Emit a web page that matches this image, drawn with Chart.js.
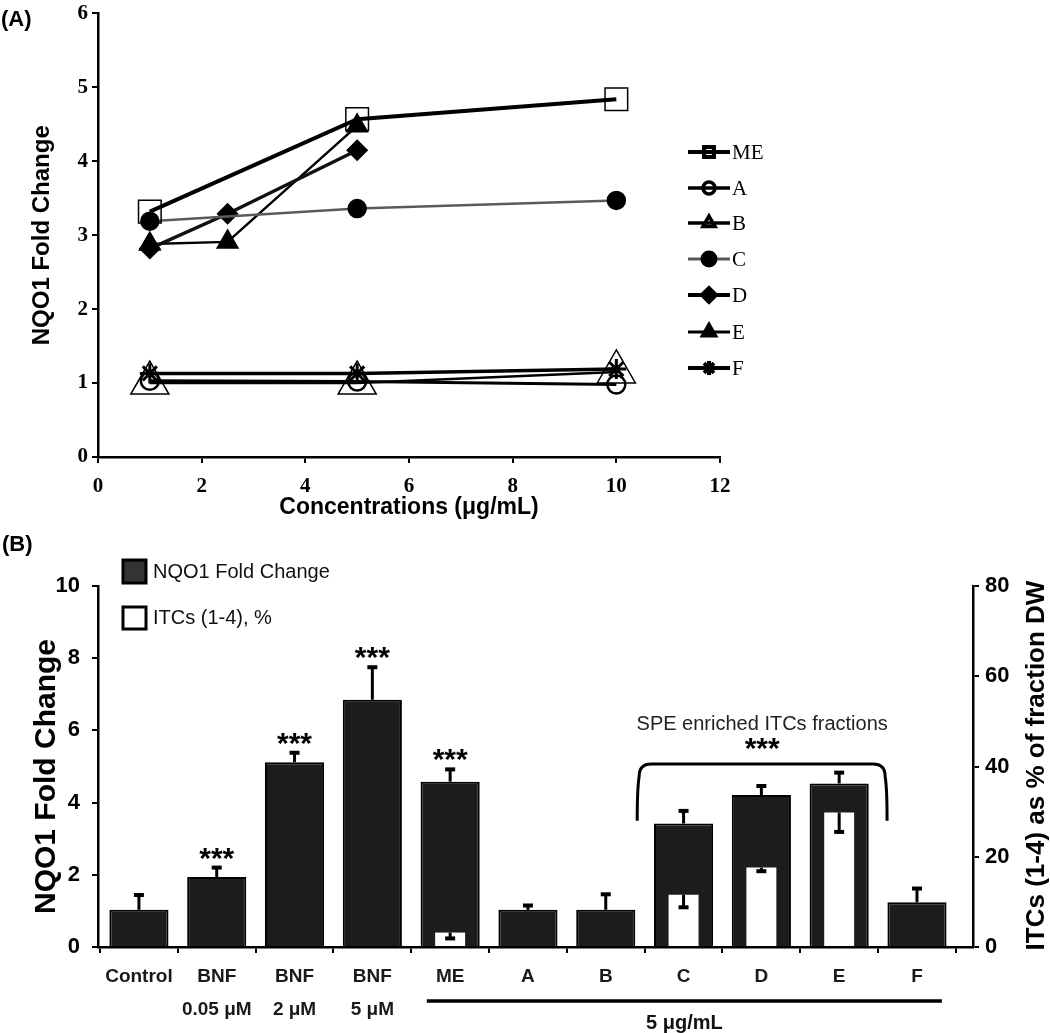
<!DOCTYPE html>
<html>
<head>
<meta charset="utf-8">
<script src="https://cdn.jsdelivr.net/npm/chart.js@4.4.1/dist/chart.umd.min.js"></script>
<style>
    body { margin: 0; background: #fff; }
    #painelA { position: absolute; left: 0; top: 0; }
    #painelB { position: absolute; left: 0; top: 522px; }
</style>
</head>
<body>
<canvas id="painelA" width="1050" height="522"></canvas>
<canvas id="painelB" width="1050" height="511"></canvas>
<script>
// ---------- dados do painel A ----------
const concPadrao = [1, 5, 10];
const concDE = [1, 2.5, 5];
const ticksXA = [0, 2, 4, 6, 8, 10, 12];
const valME = [3.32, 4.57, 4.84];
const valA = [1.03, 1.02, 0.98];
const valB = [1.0, 1.0, 1.15];
const valC = [3.19, 3.36, 3.47];
const valD = [2.82, 3.29, 4.15];
const valE = [2.88, 2.91, 4.48];
const valF = [1.13, 1.13, 1.19];

// ---------- dados do painel B ----------
const categoriasB = ['Control', 'BNF', 'BNF', 'BNF', 'ME', 'A', 'B', 'C', 'D', 'E', 'F'];
const subLabelsB = ['', '0.05 μM', '2 μM', '5 μM', '', '', '', '', '', '', ''];
const nqo1 = [1.03, 1.94, 5.12, 6.85, 4.58, 1.03, 1.03, 3.42, 4.21, 4.53, 1.24];
const nqo1Erro = [0.41, 0.26, 0.26, 0.9, 0.34, 0.12, 0.43, 0.35, 0.25, 0.3, 0.38];
const itcs = [null, null, null, null, 3.2, null, null, 11.6, 17.6, 29.8, null];
const itcsErro = [0, 0, 0, 0, 1.3, 0, 0, 2.8, 0.8, 4.3, 0];
const signif = ['', '***', '***', '***', '***', '', '', '', '', '', ''];

Chart.defaults.font.family = 'Liberation Sans';
Chart.defaults.color = '#000';

const SANS = 'Liberation Sans';
const SERIF = 'Liberation Serif';
const VAZIO = 'rgba(0,0,0,0)';

// ================= PAINEL A =================
function serie(label, xs, ys, estilo) {
    return Object.assign({
        label: label,
        data: xs.map((x, i) => ({ x: x, y: ys[i] })),
        showLine: true,
        borderColor: '#000',
        pointBorderColor: '#000',
        pointBackgroundColor: '#000',
        pointBorderWidth: 1.5
    }, estilo);
}

const seriesA = [
    serie('ME', concPadrao, valME, { borderWidth: 4, pointStyle: 'rect', pointRadius: 16, pointBackgroundColor: VAZIO, pointBorderWidth: 1.5 }),
    serie('A', concPadrao, valA, { borderWidth: 3, pointStyle: 'circle', pointRadius: 9, pointBackgroundColor: VAZIO, pointBorderWidth: 2.5 }),
    serie('B', concPadrao, valB, { borderWidth: 2.5, pointStyle: 'triangle', pointRadius: 22, pointBackgroundColor: VAZIO, pointBorderWidth: 1.5 }),
    serie('C', concPadrao, valC, { borderWidth: 2.5, borderColor: '#5a5a5a', pointStyle: 'circle', pointRadius: 9 }),
    serie('D', concDE, valD, { borderWidth: 3.5, borderColor: '#111', pointStyle: 'rectRot', pointRadius: 10 }),
    serie('E', concDE, valE, { borderWidth: 2.5, pointStyle: 'triangle', pointRadius: 12 }),
    serie('F', concPadrao, valF, { borderWidth: 3.5, pointStyle: 'star', pointRadius: 10, pointBorderWidth: 3 })
];

// legenda do painel A (linha + marcador)
const legendaA = [
    { nome: 'ME', estilo: 'rect', raio: 7, cheio: false, cor: '#000', larg: 4 },
    { nome: 'A', estilo: 'circle', raio: 6, cheio: false, cor: '#000', larg: 3.5 },
    { nome: 'B', estilo: 'triangle', raio: 7, cheio: false, cor: '#000', larg: 3.5 },
    { nome: 'C', estilo: 'circle', raio: 7, cheio: true, cor: '#5a5a5a', larg: 3 },
    { nome: 'D', estilo: 'rectRot', raio: 7, cheio: true, cor: '#000', larg: 4 },
    { nome: 'E', estilo: 'triangle', raio: 8, cheio: true, cor: '#000', larg: 3 },
    { nome: 'F', estilo: 'star', raio: 7, cheio: false, cor: '#000', larg: 4 }
];
const legendaAy = [152, 188, 223, 259, 295, 332, 368];

const extrasA = {
    id: 'extrasA',
    afterDraw(chart) {
        const ctx = chart.ctx;
        ctx.save();
        ctx.fillStyle = '#000';
        ctx.font = 'bold 22px ' + SANS;
        ctx.textBaseline = 'middle';
        ctx.textAlign = 'left';
        ctx.fillText('(A)', 1, 20);

        legendaA.forEach((item, i) => {
            const y = legendaAy[i];
            ctx.strokeStyle = item.cor;
            ctx.lineWidth = item.larg;
            ctx.beginPath();
            ctx.moveTo(688, y);
            ctx.lineTo(730, y);
            ctx.stroke();
            ctx.strokeStyle = '#000';
            ctx.fillStyle = item.cheio ? '#000' : VAZIO;
            Chart.helpers.drawPoint(ctx, { pointStyle: item.estilo, radius: item.raio, borderWidth: 1.5, rotation: 0 }, 709, y);
            ctx.fillStyle = '#000';
            ctx.font = '21px ' + SERIF;
            ctx.fillText(item.nome, 732, y + 1);
        });
        ctx.restore();
    }
};

new Chart(document.getElementById('painelA'), {
    type: 'scatter',
    data: { datasets: seriesA },
    options: {
        responsive: false,
        animation: false,
        events: [],
        layout: { autoPadding: false, padding: { left: 0, right: 330, top: 9, bottom: 0 } },
        plugins: { legend: { display: false }, tooltip: { enabled: false } },
        scales: {
            x: {
                type: 'linear',
                min: 0,
                max: 12,
                afterBuildTicks: (s) => { s.ticks = ticksXA.map(v => ({ value: v })); },
                afterFit: (s) => { s.height = 65; },
                grid: { drawOnChartArea: false, drawTicks: true, tickLength: 6, color: '#000', lineWidth: 2 },
                border: { color: '#000', width: 2.5 },
                ticks: { font: { family: SERIF, size: 21, weight: 'bold' }, color: '#000', padding: 11 },
                title: {
                    display: true,
                    text: 'Concentrations (μg/mL)',
                    font: { family: SANS, size: 23, weight: 'bold' },
                    color: '#000',
                    padding: { top: 0, bottom: 1 }
                }
            },
            y: {
                min: 0,
                max: 6,
                afterFit: (s) => { s.width = 98; },
                grid: { drawOnChartArea: false, drawTicks: true, tickLength: 6, color: '#000', lineWidth: 2 },
                border: { color: '#000', width: 2.5 },
                ticks: { stepSize: 1, font: { family: SERIF, size: 21, weight: 'bold', lineHeight: 0.9 }, color: '#000', padding: 4 },
                title: {
                    display: true,
                    text: 'NQO1 Fold Change',
                    font: { family: SANS, size: 24, weight: 'bold' },
                    color: '#000',
                    padding: { top: 28, bottom: 0 }
                }
            }
        }
    },
    plugins: [extrasA]
});

// ================= PAINEL B =================
const chaveInicio = 6.43, chaveFim = 9.59, chaveTopo = 5.07, chaveBase = 3.5;
const linhaInicio = 3.7, linhaFim = 10.32;

function textoCentrado(ctx, texto, x, centroGlifo) {
    const m = ctx.measureText(texto);
    ctx.textBaseline = 'alphabetic';
    ctx.fillText(texto, x, centroGlifo + (m.actualBoundingBoxAscent - m.actualBoundingBoxDescent) / 2);
}

function textoVertical(ctx, texto, x, y, fonte) {
    ctx.save();
    ctx.translate(x, y);
    ctx.rotate(-Math.PI / 2);
    ctx.fillStyle = '#000';
    ctx.font = fonte;
    ctx.textAlign = 'center';
    ctx.textBaseline = 'middle';
    ctx.fillText(texto, 0, 0);
    ctx.restore();
}

const extrasB = {
    id: 'extrasB',
    afterDatasetsDraw(chart) {
        const ctx = chart.ctx;
        const sx = chart.scales.x, sy = chart.scales.y, sy1 = chart.scales.y1;
        ctx.save();
        ctx.strokeStyle = '#000';
        ctx.fillStyle = '#000';
        ctx.lineCap = 'butt';
        // barras de erro (para cima) da NQO1
        nqo1.forEach((v, i) => {
            const px = sx.getPixelForValue(i);
            const yTop = sy.getPixelForValue(v);
            const yErr = sy.getPixelForValue(v + nqo1Erro[i]);
            ctx.lineWidth = 3;
            ctx.beginPath(); ctx.moveTo(px, yTop); ctx.lineTo(px, yErr); ctx.stroke();
            ctx.lineWidth = 4;
            ctx.beginPath(); ctx.moveTo(px - 5, yErr); ctx.lineTo(px + 5, yErr); ctx.stroke();
            if (signif[i]) {
                ctx.font = 'bold 30px ' + SANS;
                ctx.textAlign = 'center';
                textoCentrado(ctx, signif[i], px, yErr - 14);
            }
        });
        // barras de erro (para baixo) dos ITCs
        itcs.forEach((v, i) => {
            if (v === null) return;
            const px = sx.getPixelForValue(i);
            const yTop = sy1.getPixelForValue(v);
            const yErr = sy1.getPixelForValue(v - itcsErro[i]);
            ctx.lineWidth = 3;
            ctx.beginPath(); ctx.moveTo(px, yTop); ctx.lineTo(px, yErr); ctx.stroke();
            ctx.lineWidth = 4;
            ctx.beginPath(); ctx.moveTo(px - 5, yErr); ctx.lineTo(px + 5, yErr); ctx.stroke();
        });
        ctx.restore();
    },
    afterDraw(chart) {
        const ctx = chart.ctx;
        const sx = chart.scales.x, sy = chart.scales.y;
        ctx.save();
        ctx.fillStyle = '#000';
        ctx.strokeStyle = '#000';

        ctx.font = 'bold 22px ' + SANS;
        ctx.textAlign = 'left';
        ctx.textBaseline = 'middle';
        ctx.fillText('(B)', 2, 23);

        // legenda
        ctx.lineWidth = 3;
        ctx.fillStyle = '#333';
        ctx.fillRect(123, 38, 23, 23);
        ctx.strokeRect(123, 38, 23, 23);
        ctx.fillStyle = '#fff';
        ctx.fillRect(123, 85, 23, 22);
        ctx.strokeRect(123, 85, 23, 22);
        ctx.fillStyle = '#111';
        ctx.font = '20px ' + SANS;
        ctx.fillText('NQO1 Fold Change', 153, 50);
        ctx.fillText('ITCs (1-4), %', 153, 96);

        // chave das fracoes SPE
        const xl = sx.getPixelForValue(chaveInicio), xr = sx.getPixelForValue(chaveFim);
        const yt = sy.getPixelForValue(chaveTopo), yb = sy.getPixelForValue(chaveBase);
        const r = 12;
        ctx.lineWidth = 3;
        ctx.beginPath();
        ctx.moveTo(xl - 2, yb);
        ctx.quadraticCurveTo(xl - 2, yt + r * 2, xl, yt + r);
        ctx.quadraticCurveTo(xl, yt, xl + r, yt);
        ctx.lineTo(xr - r, yt);
        ctx.quadraticCurveTo(xr, yt, xr, yt + r);
        ctx.quadraticCurveTo(xr + 2, yt + r * 2, xr + 2, yb);
        ctx.stroke();
        ctx.fillStyle = '#000';
        ctx.textAlign = 'center';
        ctx.font = 'bold 30px ' + SANS;
        textoCentrado(ctx, '***', (xl + xr) / 2, yt - 12);
        ctx.fillStyle = '#222';
        ctx.font = '20px ' + SANS;
        ctx.textBaseline = 'middle';
        ctx.fillText('SPE enriched ITCs fractions', (xl + xr) / 2, yt - 39);

        // linha sob ME..F e rotulo da concentracao
        const la = sx.getPixelForValue(linhaInicio), lb = sx.getPixelForValue(linhaFim);
        ctx.lineWidth = 3.5;
        ctx.beginPath(); ctx.moveTo(la, 479); ctx.lineTo(lb, 479); ctx.stroke();
        ctx.fillStyle = '#111';
        ctx.font = 'bold 20px ' + SANS;
        ctx.textBaseline = 'middle';
        ctx.fillText('5 μg/mL', (la + lb) / 2, 501);
        ctx.restore();

        // titulos dos eixos (lidos de baixo para cima)
        const meio = (chart.chartArea.top + chart.chartArea.bottom) / 2;
        textoVertical(ctx, 'NQO1 Fold Change', 47, meio + 10, 'bold 30px ' + SANS);
        textoVertical(ctx, 'ITCs (1-4) as % of fraction DW', 1037, meio - 1, 'bold 26px ' + SANS);
    }
};

new Chart(document.getElementById('painelB'), {
    type: 'bar',
    data: {
        datasets: [
            {
                label: 'NQO1 Fold Change',
                data: nqo1.map((v, i) => ({ x: i, y: v })),
                backgroundColor: '#1c1c1c',
                borderColor: '#000',
                borderWidth: 2,
                barPercentage: 0.76,
                categoryPercentage: 1,
                grouped: false,
                yAxisID: 'y',
                order: 1
            },
            {
                label: 'ITCs (1-4), %',
                data: itcs.map((v, i) => ({ x: i, y: v })).filter(p => p.y !== null),
                backgroundColor: '#fff',
                borderWidth: 0,
                barPercentage: 0.385,
                categoryPercentage: 1,
                grouped: false,
                yAxisID: 'y1',
                order: 0
            }
        ]
    },
    options: {
        responsive: false,
        animation: false,
        events: [],
        layout: { autoPadding: false, padding: { left: 0, right: 0, top: 64, bottom: 0 } },
        plugins: { legend: { display: false }, tooltip: { enabled: false } },
        scales: {
            x: {
                type: 'linear',
                min: -0.526,
                max: 10.72,
                offset: false,
                afterBuildTicks: (s) => { s.ticks = categoriasB.map((c, i) => ({ value: i })); },
                afterFit: (s) => { s.height = 86; },
                grid: { offset: true, drawOnChartArea: false, drawTicks: true, tickLength: 6, color: '#000', lineWidth: 2 },
                border: { color: '#000', width: 2.5 },
                ticks: {
                    autoSkip: false,
                    maxRotation: 0,
                    padding: 7,
                    color: '#1a1a1a',
                    font: { family: SANS, size: 19, weight: 'bold', lineHeight: 1.75 },
                    callback: (v) => subLabelsB[v] ? [categoriasB[v], subLabelsB[v]] : categoriasB[v]
                }
            },
            y: {
                position: 'left',
                min: 0,
                max: 10,
                afterFit: (s) => { s.width = 98; },
                grid: { drawOnChartArea: false, drawTicks: true, tickLength: 6, color: '#000', lineWidth: 2 },
                border: { color: '#000', width: 2.5 },
                ticks: { stepSize: 2, padding: 12, font: { family: SANS, size: 22, weight: 'bold', lineHeight: 1 }, color: '#000' }
            },
            y1: {
                position: 'right',
                min: 0,
                max: 80,
                afterFit: (s) => { s.width = 77; },
                grid: { drawOnChartArea: false, drawTicks: true, tickLength: 6, color: '#000', lineWidth: 2 },
                border: { color: '#000', width: 2.5 },
                ticks: { stepSize: 20, padding: 6, font: { family: SANS, size: 22, weight: 'bold', lineHeight: 1 }, color: '#000' }
            }
        }
    },
    plugins: [extrasB]
});
</script>
</body>
</html>
